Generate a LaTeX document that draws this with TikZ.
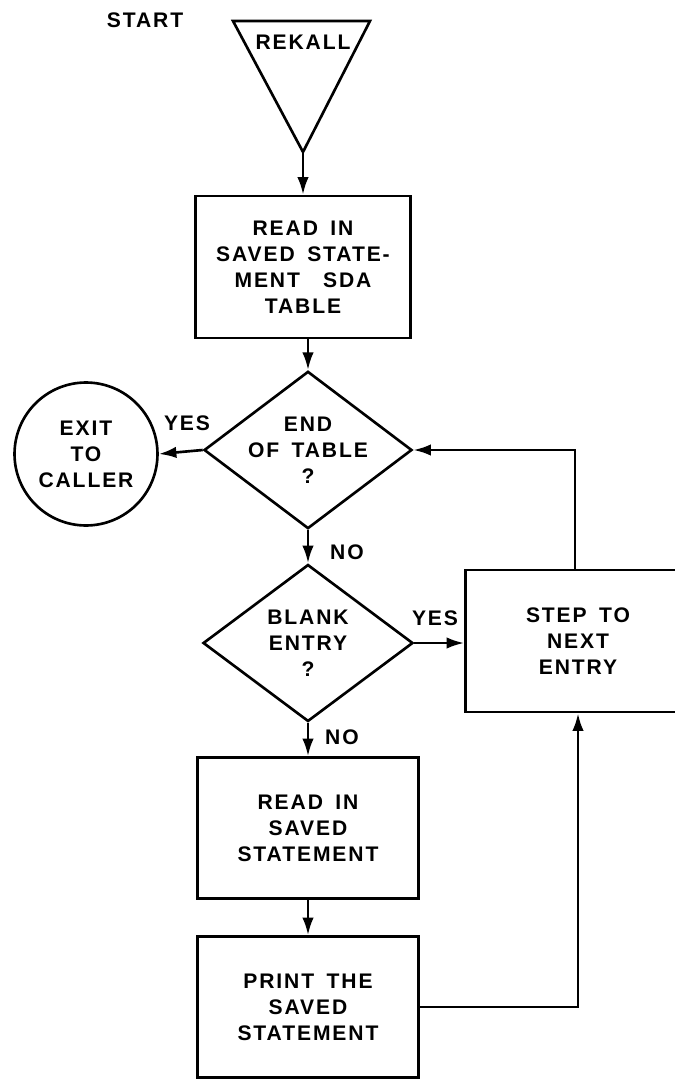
\documentclass[tikz,border=0pt]{standalone}
\usepackage{fontspec}
\setmainfont{Liberation Sans}[LetterSpace=9,WordSpace=1.6]
\usetikzlibrary{arrows.meta,shapes.geometric,calc}

\tikzset{
  chart/.style={font=\bfseries\fontsize{12}{14.8}\selectfont, line width=1.5pt},
  procbox/.style={draw, rectangle, align=center, inner sep=0pt},
  decision/.style={draw, diamond, aspect=1.32, align=center, inner sep=0pt},
  exitnode/.style={draw, circle, align=center, inner sep=0pt, minimum size=2.86cm},
  flow/.style={-{Latex[length=10pt,width=6.5pt]}},
  tag/.style={inner sep=0pt},
}

\begin{document}
\begin{tikzpicture}[chart, x=0.02cm, y=-0.02cm]
  \useasboundingbox (0,0) rectangle (674,1081);
  % entry
  \node[tag] (start) at (145,20) {START};
  \draw (233,21) -- (370,21) -- (303,152) -- cycle;
  \node[tag] (rekall) at (303,42) {REKALL};
  \coordinate (apex) at (303,152);
  \node[procbox, minimum width=4.3cm, minimum height=2.84cm] (readsda) at (303,267)
    {READ IN\\SAVED STATE-\\MENT\hspace{1.1em}SDA\\TABLE};
  % tests
  \node[decision, minimum width=4.16cm, minimum height=3.14cm] (endtab) at (308,450)
    {END\\OF TABLE\\?};
  \node[exitnode] (exit) at (86,454) {EXIT\\TO\\CALLER};
  \node[decision, minimum width=4.2cm, minimum height=3.14cm] (blank) at (308,643)
    {BLANK\\ENTRY\\?};
  \node[procbox, minimum width=4.5cm, minimum height=2.84cm] (stepnext) at (578,641)
    {STEP TO\\NEXT\\ENTRY};
  % body
  \node[procbox, minimum width=4.42cm, minimum height=2.82cm] (readstm) at (308,828)
    {READ IN\\SAVED\\STATEMENT};
  \node[procbox, minimum width=4.42cm, minimum height=2.82cm] (printstm) at (308,1007)
    {PRINT THE\\SAVED\\STATEMENT};
  % labels
  \node[tag] (yesend) at (187,423) {YES};
  \node[tag] (noend) at (347,552) {NO};
  \node[tag] (yesblank) at (435,618) {YES};
  \node[tag] (noblank) at (342,737) {NO};
  % connectors
  \draw[flow] (apex) -- (readsda.north);
  \draw[flow] (endtab.north |- readsda.south) -- (endtab.north);
  \draw[flow] (endtab.west) -- (exit.east);
  \draw[flow] (endtab.south) -- (blank.north);
  \draw[flow] (blank.east) -- (blank.east -| stepnext.west);
  \draw[flow] (blank.south) -- (readstm.north);
  \draw[flow] (readstm.south) -- (printstm.north);
  \draw[flow] (printstm.east) -| (stepnext.south);
  \draw[flow] ($(stepnext.north)+(-3,0)$) |- (endtab.east);
\end{tikzpicture}
\end{document}
